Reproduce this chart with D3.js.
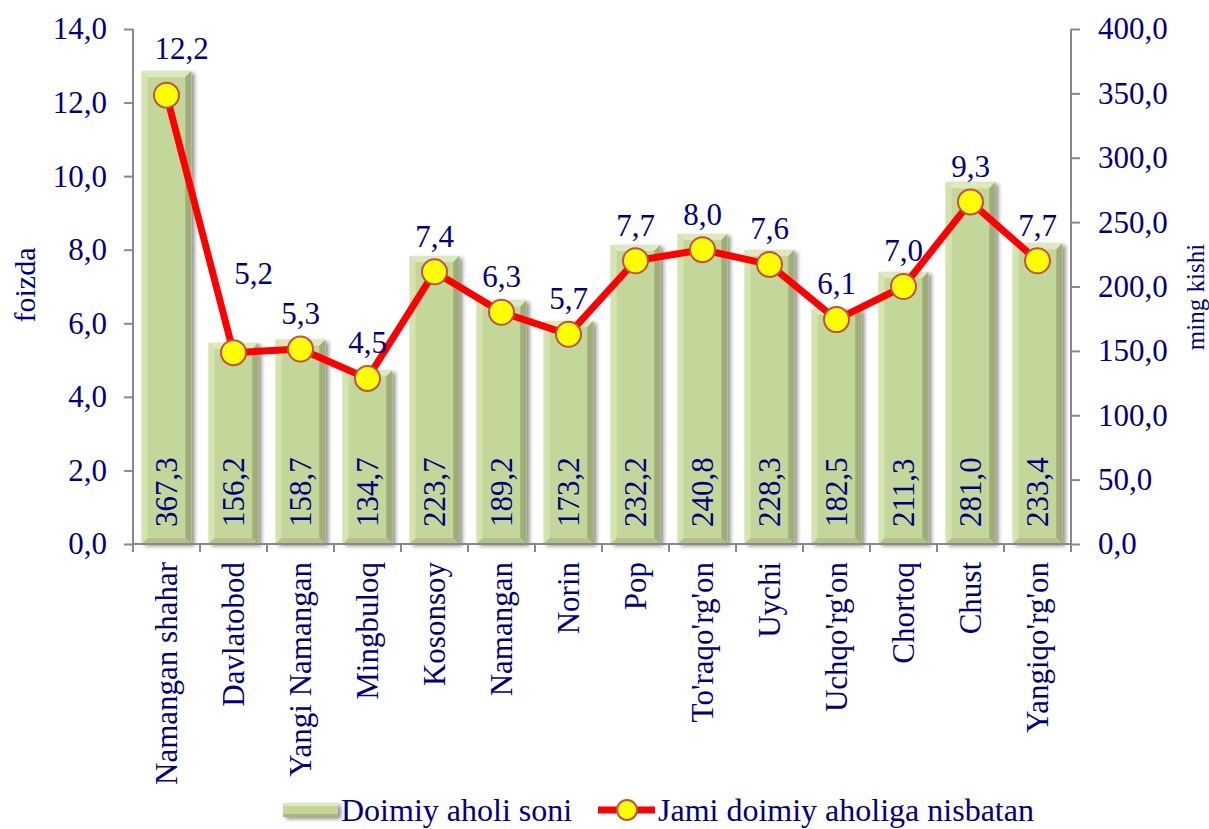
<!DOCTYPE html>
<html>
<head>
<meta charset="utf-8">
<script src="https://cdn.jsdelivr.net/npm/d3@7"></script>
<style>
  body { margin: 0; background: #fff; }
  text { font-family: "Liberation Serif", "Times New Roman", serif; fill: #000080; }
</style>
</head>
<body>
<svg id="chart" width="1209" height="829"></svg>
<script>
// Data
var districts = ["Namangan shahar", "Davlatobod", "Yangi Namangan", "Mingbuloq", "Kosonsoy",
  "Namangan", "Norin", "Pop", "To'raqo'rg'on", "Uychi", "Uchqo'rg'on", "Chortoq", "Chust", "Yangiqo'rg'on"];
var population = [367.3, 156.2, 158.7, 134.7, 223.7, 189.2, 173.2, 232.2, 240.8, 228.3, 182.5, 211.3, 281.0, 233.4];
var share = [12.2, 5.2, 5.3, 4.5, 7.4, 6.3, 5.7, 7.7, 8.0, 7.6, 6.1, 7.0, 9.3, 7.7];
var leftTicks = [0, 2, 4, 6, 8, 10, 12, 14];
var rightTicks = [0, 50, 100, 150, 200, 250, 300, 350, 400];

var svg = d3.select("#chart");
var fmt = function(v) { return v.toFixed(1).replace(".", ","); };

// plot area edges ("top" is taken by window.top)
var pLeft = 133, pRight = 1071, pTop = 29, pBottom = 544;

var x = d3.scaleBand().domain(districts).range([pLeft, pRight]).paddingInner(0.26).paddingOuter(0.13);
var band = d3.scaleBand().domain(districts).range([pLeft, pRight]);
var yL = d3.scaleLinear().domain([0, 14]).range([pBottom, pTop]);
var yR = d3.scaleLinear().domain([0, 400]).range([pBottom, pTop]);

// shadow filter for the bevelled bars
var defs = svg.append("defs");
var f = defs.append("filter").attr("id", "shadow").attr("x", "-20%").attr("y", "-20%").attr("width", "150%").attr("height", "150%");
f.append("feGaussianBlur").attr("in", "SourceAlpha").attr("stdDeviation", 2);
f.append("feOffset").attr("dx", 3).attr("dy", 2).attr("result", "b");
f.append("feComponentTransfer").append("feFuncA").attr("type", "linear").attr("slope", 0.45);
var m = f.append("feMerge");
m.append("feMergeNode");
m.append("feMergeNode").attr("in", "SourceGraphic");

// bars (right axis)
var bars = svg.append("g").attr("class", "bars")
  .selectAll("g").data(districts).enter().append("g")
  .attr("filter", "url(#shadow)");

bars.each(function(d, i) {
  var g = d3.select(this);
  var x0 = x(d), x1 = x(d) + x.bandwidth(), y0 = yR(population[i]), y1 = yR(0), b = 6;
  g.append("rect").attr("x", x0).attr("y", y0).attr("width", x1 - x0).attr("height", y1 - y0).attr("fill", "#c4d79b");
  var poly = function(pts, c) {
    g.append("polygon").attr("points", pts.map(function(p) { return p.join(","); }).join(" ")).attr("fill", c);
  };
  poly([[x0, y0], [x1, y0], [x1 - b, y0 + b], [x0 + b, y0 + b]], "#dce9bd");   // top
  poly([[x0, y0], [x0 + b, y0 + b], [x0 + b, y1 - b], [x0, y1]], "#d5e3ad");   // left
  poly([[x1, y0], [x1, y1], [x1 - b, y1 - b], [x1 - b, y0 + b]], "#9fad78");   // right
  poly([[x0, y1], [x0 + b, y1 - b], [x1 - b, y1 - b], [x1, y1]], "#b3c288");   // bottom
});

// bar value labels, rotated
svg.append("g").selectAll("text").data(districts).enter().append("text")
  .attr("transform", function(d) { return "translate(" + (x(d) + x.bandwidth() / 2) + "," + (pBottom - 17) + ") rotate(-90)"; })
  .attr("dy", "0.35em")
  .attr("font-size", 31)
  .text(function(d, i) { return fmt(population[i]); });

// axes
var axisColor = "#898989";
var gl = svg.append("g").attr("transform", "translate(" + pLeft + ",0)")
  .call(d3.axisLeft(yL).tickValues(leftTicks).tickFormat(fmt).tickSize(9).tickPadding(17));
var gr = svg.append("g").attr("transform", "translate(" + pRight + ",0)")
  .call(d3.axisRight(yR).tickValues(rightTicks).tickFormat(fmt).tickSize(9).tickPadding(18));
var gx = svg.append("g").attr("transform", "translate(0," + pBottom + ")")
  .call(d3.axisBottom(band).tickSize(0).tickFormat(""));

[gl, gr, gx].forEach(function(g) {
  g.attr("font-family", null);
  g.select(".domain").attr("stroke", axisColor).attr("stroke-width", 2);
  g.selectAll(".tick line").attr("stroke", axisColor).attr("stroke-width", 2);
  g.selectAll(".tick text").attr("font-size", 31).attr("fill", null);
});
gl.select(".domain").attr("d", "M0," + pTop + "V" + pBottom);
gr.select(".domain").attr("d", "M0," + pTop + "V" + pBottom);
gx.select(".domain").attr("d", "M" + pLeft + ",0H" + pRight);

// category tick marks at band boundaries
gx.selectAll(".sep").data(districts.concat([null])).enter().append("line")
  .attr("x1", function(d, i) { return pLeft + i * band.bandwidth(); })
  .attr("x2", function(d, i) { return pLeft + i * band.bandwidth(); })
  .attr("y1", 0).attr("y2", 8)
  .attr("stroke", axisColor).attr("stroke-width", 2);

// category labels
svg.append("g").selectAll("text").data(districts).enter().append("text")
  .attr("transform", function(d) { return "translate(" + (band(d) + band.bandwidth() / 2) + "," + (pBottom + 18) + ") rotate(-90)"; })
  .attr("text-anchor", "end")
  .attr("dy", "0.35em")
  .attr("font-size", 31)
  .text(function(d) { return d; });

// line (left axis)
var cx = function(i) { return band(districts[i]) + band.bandwidth() / 2; };
var line = d3.line().x(function(d, i) { return cx(i); }).y(function(d) { return yL(d); });
svg.append("path").datum(share).attr("d", line)
  .attr("fill", "none").attr("stroke", "#ff0000").attr("stroke-width", 7).attr("stroke-linejoin", "round");

svg.append("g").selectAll("circle").data(share).enter().append("circle")
  .attr("cx", function(d, i) { return cx(i); })
  .attr("cy", function(d) { return yL(d); })
  .attr("r", 12.5)
  .attr("fill", "#ffff00").attr("stroke", "#c0504d").attr("stroke-width", 2);

// labels above the points; a couple were moved by hand in the original
var nudge = { 0: [15, -11], 1: [20, -44] };
svg.append("g").selectAll("text").data(share).enter().append("text")
  .attr("x", function(d, i) { return cx(i) + (nudge[i] ? nudge[i][0] : 0); })
  .attr("y", function(d, i) { return yL(d) - 36 + (nudge[i] ? nudge[i][1] : 0); })
  .attr("text-anchor", "middle")
  .attr("dy", "0.35em")
  .attr("font-size", 31)
  .text(function(d) { return fmt(d); });

// axis titles
svg.append("text").attr("transform", "translate(24,285) rotate(-90)")
  .attr("text-anchor", "middle").attr("dy", "0.35em").attr("font-size", 30).text("foizda");
svg.append("text").attr("transform", "translate(1195,297) rotate(-90)")
  .attr("text-anchor", "middle").attr("dy", "0.35em").attr("font-size", 25).text("ming kishi");

// legend
var lg = svg.append("g").attr("transform", "translate(0,810)");
var sw = lg.append("g").attr("filter", "url(#shadow)");
sw.append("rect").attr("x", 283).attr("y", -7).attr("width", 55).attr("height", 14).attr("fill", "#c4d79b");
sw.append("rect").attr("x", 283).attr("y", -7).attr("width", 55).attr("height", 3).attr("fill", "#dce9bd");
sw.append("rect").attr("x", 283).attr("y", 4).attr("width", 55).attr("height", 3).attr("fill", "#a9b77f");
lg.append("text").attr("x", 341).attr("dy", "0.35em").attr("font-size", 32).text("Doimiy aholi soni");
lg.append("line").attr("x1", 598).attr("x2", 655).attr("stroke", "#ff0000").attr("stroke-width", 7);
lg.append("circle").attr("cx", 627).attr("r", 10).attr("fill", "#ffff00").attr("stroke", "#c0504d").attr("stroke-width", 2);
lg.append("text").attr("x", 658).attr("dy", "0.35em").attr("font-size", 32).text("Jami doimiy aholiga nisbatan");
</script>
</body>
</html>
